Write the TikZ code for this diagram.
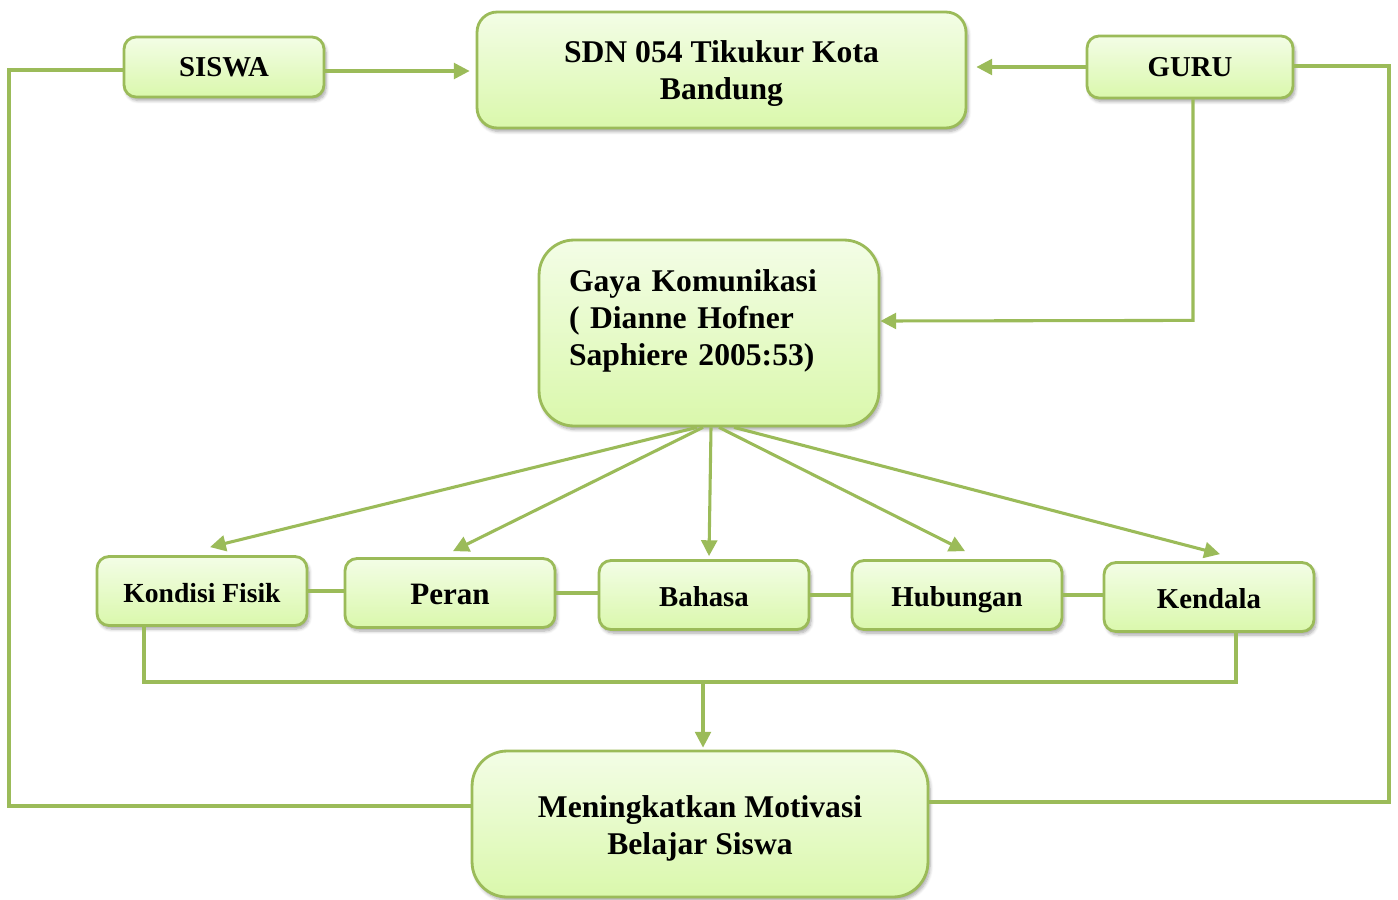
\documentclass[tikz,border=0pt]{standalone}
\usepackage{fontspec}
\setmainfont{Liberation Serif}
\usetikzlibrary{arrows.meta,calc,shadows.blur}
\definecolor{lineg}{RGB}{155,187,89}
\definecolor{boxtop}{RGB}{243,253,230}
\definecolor{boxbot}{RGB}{218,248,172}
\tikzset{
  box/.style={draw=lineg, line width=1.6pt, top color=boxtop, bottom color=boxbot,
    rounded corners=0.24cm, inner sep=0pt, align=center, text=black,
    font=\bfseries\fontsize{16.4}{21}\selectfont,
    blur shadow={shadow xshift=1.2pt, shadow yshift=-2pt, shadow blur steps=6, shadow opacity=35}},
  bigbox/.style={box, font=\bfseries\fontsize{18}{21}\selectfont},
  smallbox/.style={box, minimum width=4.2cm, minimum height=1.38cm, text height=13pt, text depth=0pt},
  conn/.style={draw=lineg, line width=1.75pt},
  arr/.style={conn, -{Triangle[length=9pt,width=9pt]}},
}
\begin{document}
\begin{tikzpicture}[x=0.02cm, y=-0.02cm]
\useasboundingbox (0,0) rectangle (1398,899);
% nodes
\node[box, minimum width=4.0cm, minimum height=1.2cm] (siswa) at (224,67) {SISWA};
\node[bigbox, minimum width=9.78cm, minimum height=2.32cm, rounded corners=0.4cm] (sdn) at (721.5,70) {\rule{0pt}{17pt}SDN 054 Tikukur Kota\\Bandung};
\node[box, minimum width=4.12cm, minimum height=1.24cm] (guru) at (1190,67) {GURU};
\node[bigbox, minimum width=6.8cm, minimum height=3.72cm, rounded corners=0.7cm,
      text width=5.6cm, align=left] (gaya) at (709,333) {Gaya Komunikasi\\( Dianne Hofner\\Saphiere 2005:53)\rule[-18pt]{0pt}{1pt}};
\node[smallbox, font=\bfseries\fontsize{15.7}{19}\selectfont] (kondisi) at (202,591) {Kondisi Fisik};
\node[smallbox, font=\bfseries\fontsize{17.7}{21}\selectfont] (peran) at (450,593) {Peran};
\node[smallbox] (bahasa) at (704,595) {Bahasa};
\node[smallbox] (hubungan) at (957,595) {Hubungan};
\node[smallbox] (kendala) at (1209,597) {Kendala};
\node[bigbox, minimum width=9.12cm, minimum height=2.92cm, rounded corners=0.7cm] (motivasi) at (700,824) {\rule{0pt}{17pt}Meningkatkan Motivasi\\Belajar Siswa};

% top connectors
\draw[arr] ($(siswa.east)+(0,4)$) -- ($(sdn.west |- siswa.east)+(-6,4)$);
\draw[arr] (guru.west) -- ($(sdn.east |- guru.west)+(9,0)$);
\draw[arr] ($(guru.south)+(3,0)$) -- ($(guru.south)+(3,221)$) -- ($(gaya.east)+(0,-12)$);

% side loops
\draw[conn] ($(siswa.west)+(0,3)$) -- (9,70) -- (9,806) -- ($(motivasi.west)+(0,-18)$);
\draw[conn] ($(guru.east)+(0,-1)$) -- (1389,66) -- (1389,802) -- ($(motivasi.east)+(0,-22)$);

% fan out
\draw[arr] ($(gaya.south)+(-12,0)$) -- ($(kondisi.north)+(8,-8)$);
\draw[arr] ($(gaya.south)+(-6,0)$) -- ($(peran.north)+(3,-6)$);
\draw[arr] ($(gaya.south)+(2,0)$) -- ($(bahasa.north)+(5,-3)$);
\draw[arr] ($(gaya.south)+(10,0)$) -- ($(hubungan.north)+(8,-8)$);
\draw[arr] ($(gaya.south)+(25,0)$) -- ($(kendala.north)+(11,-7)$);

% horizontal joins
\draw[conn] (kondisi.east) -- (kondisi.east -| peran.west);
\draw[conn] (peran.east) -- (peran.east -| bahasa.west);
\draw[conn] (bahasa.east) -- (bahasa.east -| hubungan.west);
\draw[conn] (hubungan.east) -- (hubungan.east -| kendala.west);

% bottom bus
\coordinate (bus) at (703,682);
\draw[conn] ($(kondisi.south)+(-58,0)$) -- (144,682) -- (1236,682) -- ($(kendala.south)+(27,0)$);
\draw[arr] (bus) -- ($(bus |- motivasi.north)+(0,-2)$);
\end{tikzpicture}
\end{document}
